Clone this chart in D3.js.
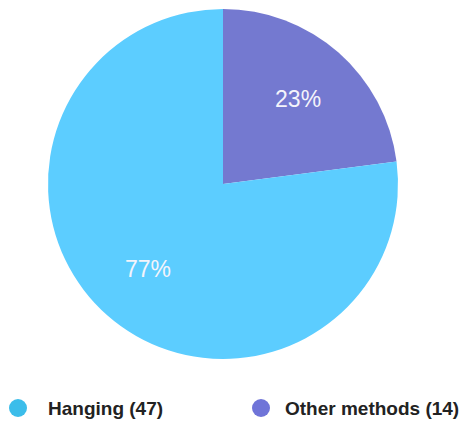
<!DOCTYPE html>
<html>
<head>
<meta charset="utf-8">
<script src="https://cdn.jsdelivr.net/npm/d3@7/dist/d3.min.js"></script>
<style>
  html, body { margin: 0; padding: 0; background: #fff; }
  svg { display: block; }
</style>
</head>
<body>
<svg id="chart" width="470" height="423"></svg>
<script>
// Suicide methods breakdown
const categories = ["Hanging", "Other methods"];
const counts = [47, 14];
const sliceColors = ["#5ccdff", "#7479d0"];
const legendColors = ["#3cbdea", "#6f74d8"];

const svg = d3.select("#chart");
const cx = 223, cy = 184, radius = 175;

const data = categories.map((c, i) => ({ name: c, value: counts[i], color: sliceColors[i], legend: legendColors[i] }));
const total = d3.sum(counts);

// "Other methods" starts at 12 o'clock, going clockwise; "Hanging" follows
const pie = d3.pie()
  .value(d => d.value)
  .sort(null);
const arcs = pie([data[1], data[0]]);

const arc = d3.arc().innerRadius(0).outerRadius(radius);
const labelArc = d3.arc().innerRadius(radius * 0.65).outerRadius(radius * 0.65);

const g = svg.append("g").attr("transform", `translate(${cx},${cy})`);

g.selectAll("path.slice")
  .data(arcs)
  .enter().append("path")
  .attr("class", "slice")
  .attr("d", arc)
  .attr("fill", d => d.data.color);

g.selectAll("text.pct")
  .data(arcs)
  .enter().append("text")
  .attr("class", "pct")
  .attr("transform", d => `translate(${labelArc.centroid(d)})`)
  .attr("text-anchor", "middle")
  .attr("dominant-baseline", "central")
  .attr("font-family", "Liberation Sans, Arial, sans-serif")
  .attr("font-size", 23)
  .attr("fill", "#f4f4fb")
  .text(d => Math.round(d.data.value / total * 100) + "%");

// Legend
const legendPos = [{ dot: 18, text: 48 }, { dot: 261, text: 285 }];
const legend = svg.selectAll("g.legend")
  .data(data)
  .enter().append("g")
  .attr("class", "legend")
  .attr("transform", "translate(0,408)");

legend.append("circle")
  .attr("cx", (d, i) => legendPos[i].dot)
  .attr("r", 9)
  .attr("fill", d => d.legend);

legend.append("text")
  .attr("x", (d, i) => legendPos[i].text)
  .attr("dominant-baseline", "central")
  .attr("font-family", "Liberation Sans, Arial, sans-serif")
  .attr("font-weight", "bold")
  .attr("font-size", 19)
  .attr("fill", "#222")
  .text(d => `${d.name} (${d.value})`);
</script>
</body>
</html>
